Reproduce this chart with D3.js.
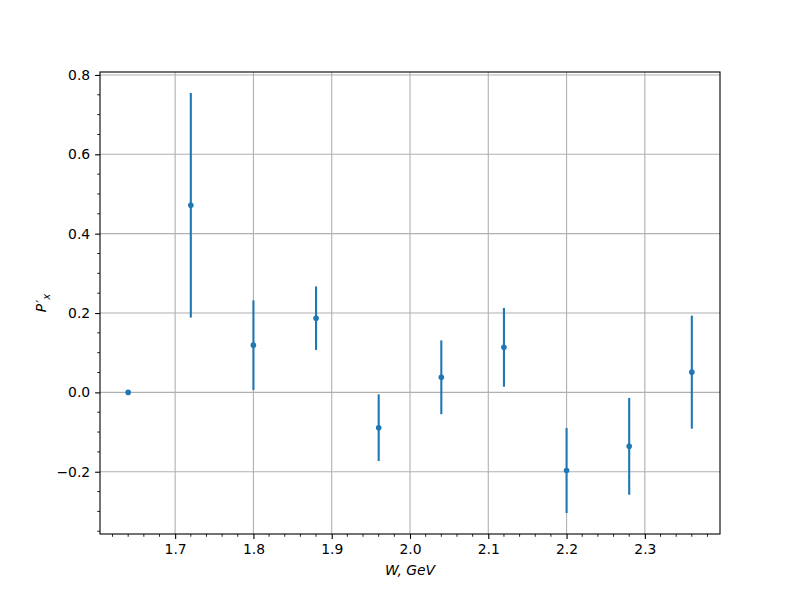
<!DOCTYPE html>
<html>
<head>
<meta charset="utf-8">
<script src="https://cdn.jsdelivr.net/npm/d3@7"></script>
<style>
  body { margin: 0; background: #fff; }
  svg { display: block; }
  text { font-family: "DejaVu Sans", sans-serif; }
</style>
</head>
<body>
<svg id="chart" width="800" height="600"></svg>
<script>
// Data
const W = [1.64, 1.72, 1.80, 1.88, 1.96, 2.04, 2.12, 2.20, 2.28, 2.36];
const Px = [0.0, 0.4715, 0.119, 0.187, -0.089, 0.038, 0.1135, -0.197, -0.136, 0.051];
const PxErr = [0.0, 0.283, 0.113, 0.080, 0.084, 0.093, 0.0993, 0.107, 0.122, 0.1424];
const xTicks = [1.7, 1.8, 1.9, 2.0, 2.1, 2.2, 2.3];
const yTicks = [-0.2, 0.0, 0.2, 0.4, 0.6, 0.8];

const svg = d3.select("#chart");
const margin = { left: 100, right: 80, top: 72, bottom: 66 };
const width = 800 - margin.left - margin.right;
const height = 600 - margin.top - margin.bottom;
const g = svg.append("g").attr("transform", `translate(${margin.left},${margin.top})`);

// matplotlib-like 5% margins
const xmin = d3.min(W), xmax = d3.max(W);
const xpad = (xmax - xmin) * 0.05;
const lo = d3.min(Px.map((v, i) => v - PxErr[i]));
const hi = d3.max(Px.map((v, i) => v + PxErr[i]));
const ypad = (hi - lo) * 0.05;

const x = d3.scaleLinear().domain([xmin - xpad, xmax + xpad]).range([0, width]);
const y = d3.scaleLinear().domain([lo - ypad, hi + ypad]).range([height, 0]);

const gridColor = "#b0b0b0";
// grid
g.append("g").selectAll("line").data(xTicks).join("line")
  .attr("x1", d => x(d)).attr("x2", d => x(d)).attr("y1", 0).attr("y2", height)
  .attr("stroke", gridColor).attr("stroke-width", 1.1);
g.append("g").selectAll("line").data(yTicks).join("line")
  .attr("y1", d => y(d)).attr("y2", d => y(d)).attr("x1", 0).attr("x2", width)
  .attr("stroke", gridColor).attr("stroke-width", 1.1);

// axes
const fmt = d3.format(".1f");
const xAxis = d3.axisBottom(x).tickValues(xTicks).tickFormat(fmt).tickSizeInner(4.9).tickSizeOuter(0).tickPadding(4.9);
const yAxis = d3.axisLeft(y).tickValues(yTicks).tickFormat(d => fmt(d).replace("-", "\u2212")).tickSizeInner(4.9).tickSizeOuter(0).tickPadding(4.9);

// minor ticks
const xMinor = d3.range(1.62, 2.3901, 0.02).filter(v => !xTicks.some(t => Math.abs(t - v) < 1e-6));
const yMinor = d3.range(-0.35, 0.8001, 0.05).filter(v => !yTicks.some(t => Math.abs(t - v) < 1e-6));

const gx = g.append("g").attr("transform", `translate(0,${height})`).call(xAxis);
const gy = g.append("g").call(yAxis);
[gx, gy].forEach(a => {
  a.select(".domain").remove();
  a.selectAll(".tick line").attr("stroke", "#000").attr("stroke-width", 1.1);
  a.selectAll(".tick text").attr("font-size", "13.9px").attr("fill", "#000").attr("font-family", "DejaVu Sans, sans-serif");
});

g.append("g").selectAll("line").data(xMinor).join("line")
  .attr("x1", d => x(d)).attr("x2", d => x(d)).attr("y1", height).attr("y2", height + 2.8)
  .attr("stroke", "#000").attr("stroke-width", 0.85);
g.append("g").selectAll("line").data(yMinor).join("line")
  .attr("y1", d => y(d)).attr("y2", d => y(d)).attr("x1", 0).attr("x2", -2.8)
  .attr("stroke", "#000").attr("stroke-width", 0.85);

// error bars
const color = "#1f77b4";
g.append("g").selectAll("line").data(W.map((w, i) => ({ w, v: Px[i], e: PxErr[i] })).filter(d => d.e > 0)).join("line")
  .attr("x1", d => x(d.w)).attr("x2", d => x(d.w))
  .attr("y1", d => y(d.v - d.e)).attr("y2", d => y(d.v + d.e))
  .attr("stroke", color).attr("stroke-width", 2.1);
g.append("g").selectAll("circle").data(W.map((w, i) => ({ w, v: Px[i] }))).join("circle")
  .attr("cx", d => x(d.w)).attr("cy", d => y(d.v)).attr("r", 2.8)
  .attr("fill", color);

// frame
g.append("rect").attr("x", 0).attr("y", 0).attr("width", width).attr("height", height)
  .attr("fill", "none").attr("stroke", "#000").attr("stroke-width", 1.1);

// labels
svg.append("text").attr("x", margin.left + width / 2).attr("y", 575)
  .attr("text-anchor", "middle").attr("font-size", "13.9px").attr("font-style", "italic")
  .text("W, GeV");

const yl = svg.append("text").attr("transform", `translate(46,${margin.top + height / 2}) rotate(-90)`)
  .attr("text-anchor", "middle").attr("font-size", "13.9px");
yl.append("tspan").attr("font-style", "italic").text("P");
yl.append("tspan").attr("dx", "1").attr("font-size", "14px").text("\u2032");
yl.append("tspan").attr("dy", "4").attr("dx", "0").attr("font-size", "10px").attr("font-style", "italic").text("x");
</script>
</body>
</html>
